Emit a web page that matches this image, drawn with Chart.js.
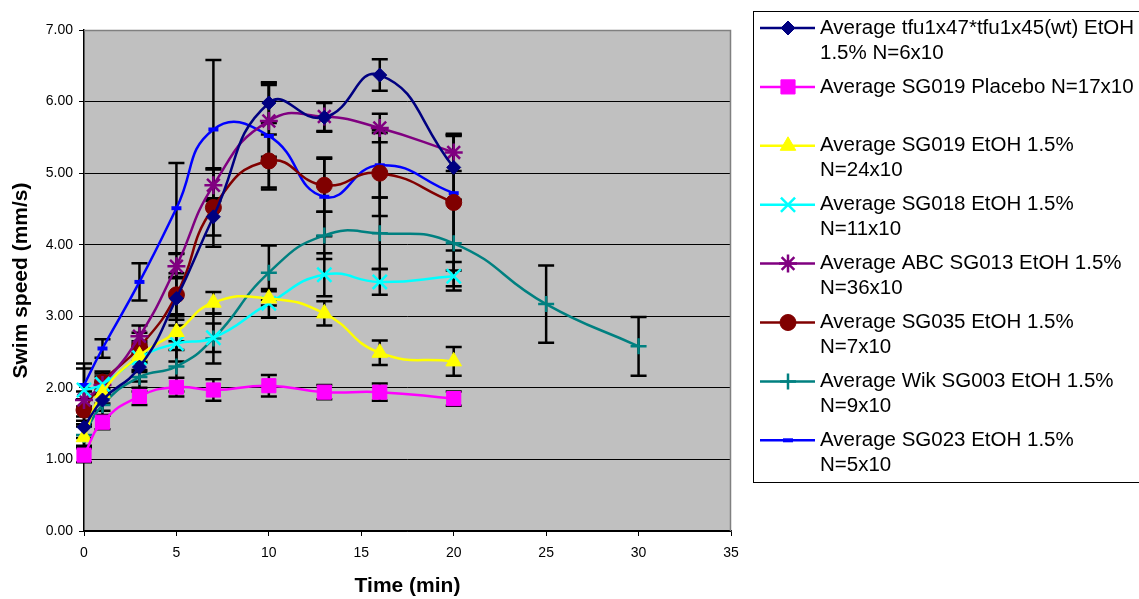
<!DOCTYPE html>
<html>
<head>
<meta charset="utf-8">
<script src="https://cdn.jsdelivr.net/npm/chart.js@4/dist/chart.umd.min.js"></script>
<style>
  body { margin: 0; background: #ffffff; }
  #wrap { width: 1139px; height: 599px; }
</style>
</head>
<body>
<div id="wrap"><canvas id="myChart" width="1139" height="599"></canvas></div>
<script>
// time points (min)
const times = [0, 1, 3, 5, 7, 10, 13, 16, 20];
const timesWik = [0, 1, 3, 5, 7, 10, 13, 16, 20, 25, 30];

// averages (mm/s)
const tfuWt = [1.45, 1.83, 2.29, 3.25, 4.39, 5.98, 5.78, 6.37, 5.08];
const sg019Placebo = [1.06, 1.52, 1.88, 2.01, 1.97, 2.03, 1.94, 1.94, 1.85];
const sg019Etoh = [1.31, 1.93, 2.45, 2.78, 3.19, 3.25, 3.04, 2.49, 2.37];
const sg018Etoh = [1.97, 2.05, 2.42, 2.62, 2.70, 3.18, 3.58, 3.48, 3.56];
const abcSg013 = [1.83, 2.04, 2.72, 3.70, 4.83, 5.73, 5.79, 5.63, 5.29];
const sg035Etoh = [1.69, 2.08, 2.57, 3.30, 4.52, 5.17, 4.83, 5.00, 4.59];
const wikSg003 = [1.34, 1.76, 2.15, 2.30, 2.69, 3.61, 4.13, 4.16, 4.02, 3.17, 2.58];
const sg023Etoh = [2.04, 2.55, 3.48, 4.51, 5.61, 5.52, 4.67, 5.11, 4.72];

// error bar sizes (+/-)
const tfuWtErr = [0.15, 0.15, 0.2, 0.3, 0.26, 0.28, 0.2, 0.22, 0.45];
const sg019PlaceboErr = [0.1, 0.1, 0.12, 0.13, 0.15, 0.15, 0.1, 0.12, 0.1];
const sg019EtohErr = [0.15, 0.15, 0.2, 0.25, 0.15, 0.1, 0.17, 0.17, 0.2];
const sg018EtohErr = [0.3, 0.15, 0.2, 0.25, 0.2, 0.2, 0.3, 0.18, 0.2];
const abcSg013Err = [0.12, 0.12, 0.15, 0.17, 0.22, 0.5, 0.2, 0.2, 0.26];
const sg035EtohErr = [0.15, 0.15, 0.2, 0.3, 0.55, 0.37, 0.37, 0.6, 0.95];
const wikSg003Err = [0.15, 0.15, 0.2, 0.35, 0.35, 0.38, 0.33, 0.5, 0.6, 0.54, 0.41];
const sg023EtohErr = [0.3, 0.13, 0.26, 0.63, 0.97, 0.75, 0.55, 0.45, 0.8];

// legend text, one entry per series
const seriesLabels = [
    ['Average tfu1x47*tfu1x45(wt) EtOH', '1.5% N=6x10'],
    ['Average SG019 Placebo N=17x10'],
    ['Average SG019 EtOH 1.5%', 'N=24x10'],
    ['Average SG018 EtOH 1.5%', 'N=11x10'],
    ['Average ABC SG013 EtOH 1.5%', 'N=36x10'],
    ['Average SG035 EtOH 1.5%', 'N=7x10'],
    ['Average Wik SG003 EtOH 1.5%', 'N=9x10'],
    ['Average SG023 EtOH 1.5%', 'N=5x10']
];

const yTicks = [0, 1, 2, 3, 4, 5, 6, 7];
const xTicks = [0, 5, 10, 15, 20, 25, 30, 35];

const FONT = '"Liberation Sans", Arial, sans-serif';

function points(xs, ys)
{
    return xs.map((x, i) => ({ x: x, y: ys[i] }));
}

function series(i, xs, ys, errs, color, style, radius, width)
{
    return {
        label: seriesLabels[i].join(' '),
        data: points(xs, ys),
        errors: errs,
        showLine: true,
        clip: false,
        borderColor: color,
        backgroundColor: color,
        borderWidth: 2.5,
        tension: 0.5,
        pointStyle: style,
        pointRadius: radius,
        pointHoverRadius: radius,
        pointBorderWidth: width,
        pointBackgroundColor: color,
        pointBorderColor: color
    };
}

const datasets = [
    series(0, times, tfuWt, tfuWtErr, '#000080', 'rectRot', 7, 1),
    series(1, times, sg019Placebo, sg019PlaceboErr, '#FF00FF', 'rect', 10, 1),
    series(2, times, sg019Etoh, sg019EtohErr, '#FFFF00', 'triangle', 9, 1),
    series(3, times, sg018Etoh, sg018EtohErr, '#00FFFF', 'crossRot', 10, 2.5),
    series(4, times, abcSg013, abcSg013Err, '#800080', 'star', 9, 2.5),
    series(5, times, sg035Etoh, sg035EtohErr, '#800000', 'circle', 8, 1),
    series(6, timesWik, wikSg003, wikSg003Err, '#008080', 'cross', 8, 2.5),
    series(7, times, sg023Etoh, sg023EtohErr, '#0000FF', 'line', 5, 4)
];

const plotBack = {
    id: 'plotBack',
    beforeDraw(chart)
    {
        const a = chart.chartArea;
        const ctx = chart.ctx;
        ctx.save();
        ctx.fillStyle = '#C0C0C0';
        ctx.fillRect(a.left, a.top, a.right - a.left, a.bottom - a.top);
        ctx.restore();
    },
    beforeDatasetsDraw(chart)
    {
        const a = chart.chartArea;
        const ctx = chart.ctx;
        const xs = chart.scales.x;
        const ys = chart.scales.y;
        ctx.save();
        // grey frame top / right
        ctx.strokeStyle = '#808080';
        ctx.lineWidth = 1.5;
        ctx.beginPath();
        ctx.moveTo(a.left, a.top + 0.5);
        ctx.lineTo(a.right - 0.5, a.top + 0.5);
        ctx.lineTo(a.right - 0.5, a.bottom);
        ctx.stroke();
        // error bars
        ctx.strokeStyle = '#000000';
        ctx.lineWidth = 2.5;
        chart.data.datasets.forEach(ds =>
        {
            ds.data.forEach((p, i) =>
            {
                const e = ds.errors[i];
                const px = xs.getPixelForValue(p.x);
                const top = ys.getPixelForValue(p.y + e);
                const bot = ys.getPixelForValue(p.y - e);
                ctx.beginPath();
                ctx.moveTo(px, top);
                ctx.lineTo(px, bot);
                ctx.moveTo(px - 8, top);
                ctx.lineTo(px + 8, top);
                ctx.moveTo(px - 8, bot);
                ctx.lineTo(px + 8, bot);
                ctx.stroke();
            });
        });
        ctx.restore();
    }
};

const boxLegend = {
    id: 'boxLegend',
    afterDraw(chart)
    {
        const ctx = chart.ctx;
        ctx.save();
        ctx.strokeStyle = '#000000';
        ctx.lineWidth = 1;
        ctx.strokeRect(753.5, 11.5, 400, 471);
        ctx.font = '20.5px ' + FONT;
        ctx.textBaseline = 'middle';
        ctx.textAlign = 'left';
        chart.data.datasets.forEach((ds, i) =>
        {
            const y = 28 + i * 58.9;
            ctx.strokeStyle = ds.borderColor;
            ctx.lineWidth = 2.5;
            ctx.beginPath();
            ctx.moveTo(760, y);
            ctx.lineTo(815, y);
            ctx.stroke();
            ctx.fillStyle = ds.pointBackgroundColor;
            ctx.strokeStyle = ds.pointBorderColor;
            ctx.lineWidth = ds.pointBorderWidth;
            Chart.helpers.drawPoint(ctx, {
                pointStyle: ds.pointStyle,
                radius: ds.pointRadius,
                rotation: 0,
                borderWidth: ds.pointBorderWidth
            }, 788, y);
            ctx.fillStyle = '#000000';
            seriesLabels[i].forEach((line, j) =>
            {
                ctx.fillText(line, 820, y + j * 25);
            });
        });
        ctx.restore();
    }
};

const ctx = document.getElementById('myChart').getContext('2d');
const myChart = new Chart(ctx, {
    type: 'scatter',
    data: { datasets: datasets },
    plugins: [plotBack, boxLegend],
    options: {
        responsive: false,
        animation: false,
        events: [],
        layout: {
            padding: { left: 0, top: 30, right: 408, bottom: 0 }
        },
        plugins: {
            legend: { display: false },
            tooltip: { enabled: false }
        },
        scales: {
            x: {
                type: 'linear',
                min: 0,
                max: 35,
                afterBuildTicks: scale => { scale.ticks = xTicks.map(v => ({ value: v })); },
                afterFit: scale => { scale.height = 68; },
                grid: {
                    drawOnChartArea: false,
                    drawTicks: true,
                    tickLength: 5,
                    color: '#000000'
                },
                border: { color: '#000000', width: 1.5 },
                ticks: {
                    color: '#000000',
                    padding: 9,
                    font: { family: FONT, size: 14 }
                },
                title: {
                    display: true,
                    text: 'Time (min)',
                    color: '#000000',
                    padding: { top: 4, bottom: 0 },
                    font: { family: FONT, size: 21, weight: 'bold' }
                }
            },
            y: {
                type: 'linear',
                min: 0,
                max: 7,
                afterBuildTicks: scale => { scale.ticks = yTicks.map(v => ({ value: v })); },
                afterFit: scale => { scale.width = 84; },
                grid: {
                    drawOnChartArea: true,
                    drawTicks: true,
                    tickLength: 5,
                    color: '#000000'
                },
                border: { color: '#000000', width: 1.5 },
                ticks: {
                    color: '#000000',
                    padding: 6,
                    callback: value => value.toFixed(2),
                    font: { family: FONT, size: 14 }
                },
                title: {
                    display: true,
                    text: 'Swim speed (mm/s)',
                    color: '#000000',
                    padding: { top: 9, bottom: 4 },
                    font: { family: FONT, size: 21, weight: 'bold' }
                }
            }
        }
    }
});
</script>
</body>
</html>
